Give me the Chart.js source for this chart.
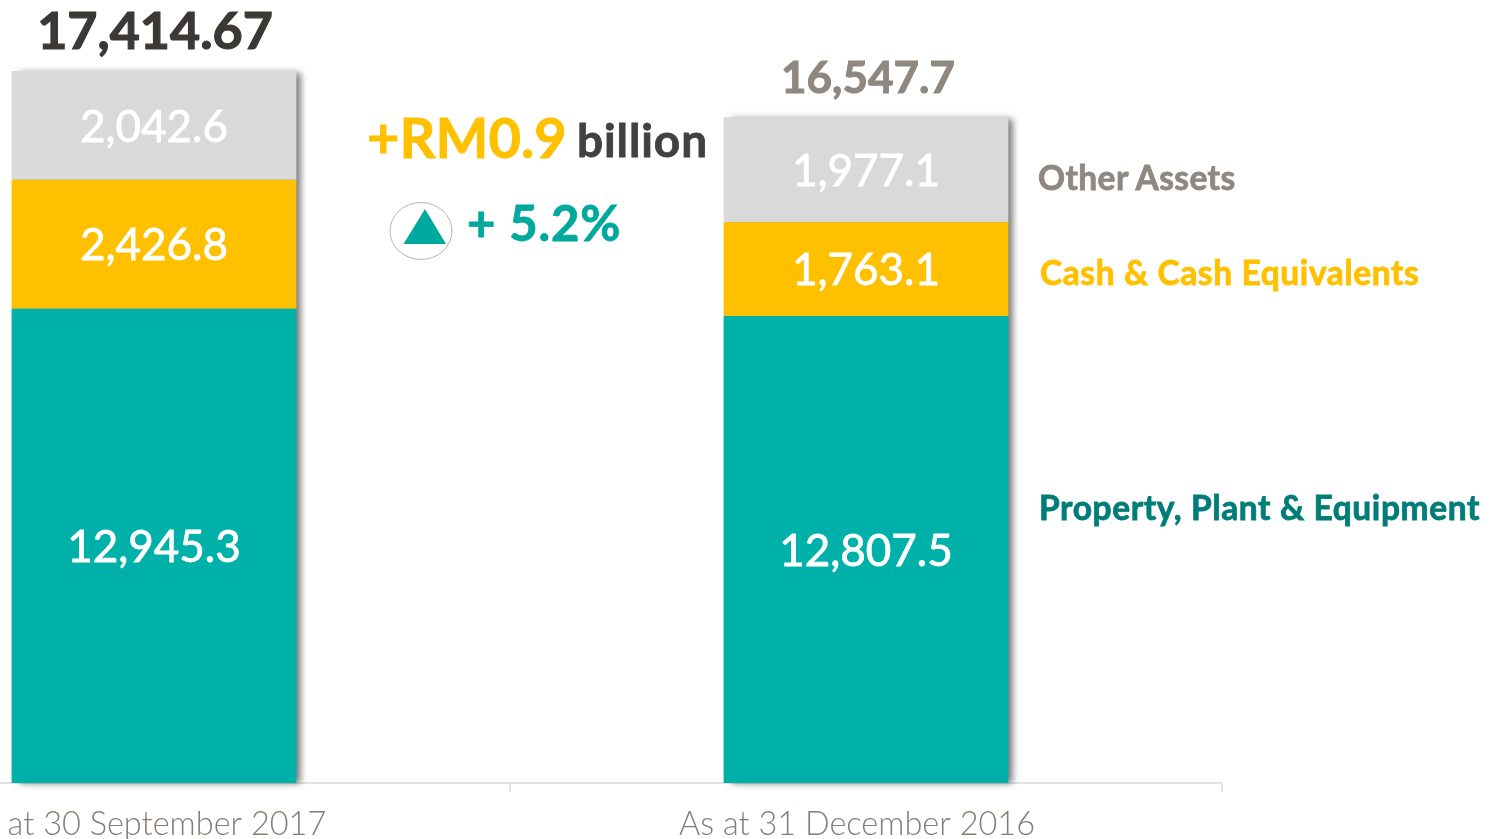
<!DOCTYPE html>
<html lang="en">
<head>
    <meta charset="UTF-8">
    <title>Total Assets</title>
    <style>
        html, body {
            margin: 0;
            width: 1501px;
            height: 839px;
            overflow: hidden;
            background: #fff;
            font-family: Lato, sans-serif;
        }
        #wrap {
            position: absolute;
            left: -202px;
            top: 0;
            width: 1440px;
            height: 839px;
        }
        .note {
            position: absolute;
            white-space: nowrap;
            line-height: 1;
            font-weight: 700;
            -webkit-text-stroke: 0.8px currentColor;
        }
        #legendOther { left: 1038px; top: 161px; font-size: 33.5px; letter-spacing: 0.4px; color: #8f8880; }
        #legendCash { left: 1040px; top: 256px; font-size: 33.5px; letter-spacing: 0.6px; color: #ffc000; }
        #legendPpe { left: 1039px; top: 491px; font-size: 33.5px; letter-spacing: 0.6px; color: #007d78; }
        #change { left: 367px; top: 109px; font-size: 56px; color: #ffc000; }
        #billion { left: 577px; top: 117px; font-size: 46px; letter-spacing: 0.9px; color: #414042; }
        #percent { left: 467px; top: 198px; font-size: 49px; letter-spacing: 0.9px; color: #00a99d; }
        #arrow { position: absolute; left: 388px; top: 200px; }
    </style>
    <script src="https://cdn.jsdelivr.net/npm/chart.js"></script>
</head>
<body>
    <div id="wrap"><canvas id="assetsChart"></canvas></div>
    <div class="note" id="legendOther"></div>
    <div class="note" id="legendCash"></div>
    <div class="note" id="legendPpe"></div>
    <div class="note" id="change">+RM0.9</div>
    <div class="note" id="billion">billion</div>
    <svg id="arrow" width="66" height="62">
        <ellipse cx="33" cy="31" rx="31" ry="28.5" fill="none" stroke="#b5b5b5" stroke-width="1"></ellipse>
        <polygon points="37,9 15.5,44 58,44" fill="#00a99d"></polygon>
    </svg>
    <div class="note" id="percent">+ 5.2%</div>
    <script>
        const categories = ['As at 30 September 2017', 'As at 31 December 2016'];
        const seriesNames = ['Property, Plant & Equipment', 'Cash & Cash Equivalents', 'Other Assets'];
        const ppeValues = [12945.3, 12807.5];
        const cashValues = [2426.8, 1763.1];
        const otherValues = [2042.6, 1977.1];
        const totalLabels = ['17,414.67', '16,547.7'];

        document.getElementById('legendPpe').textContent = seriesNames[0];
        document.getElementById('legendCash').textContent = seriesNames[1];
        document.getElementById('legendOther').textContent = seriesNames[2];

        function heavyText(ctx, text, x, y, color, weight) {
            ctx.fillStyle = color;
            ctx.strokeStyle = color;
            ctx.lineWidth = weight;
            ctx.fillText(text, x, y);
            ctx.strokeText(text, x, y);
        }

        // value labels inside the bars and totals on top of them
        const barLabels = {
            id: 'barLabels',
            afterDatasetsDraw(chart) {
                const ctx = chart.ctx;
                ctx.save();
                ctx.textAlign = 'center';
                ctx.textBaseline = 'middle';
                ctx.font = '44px Lato, sans-serif';
                chart.data.datasets.forEach((ds, i) => {
                    chart.getDatasetMeta(i).data.forEach((bar, j) => {
                        const bottom = i === 0 ? chart.scales.y.bottom : bar.base;
                        const label = ds.data[j].toLocaleString('en-US', { minimumFractionDigits: 1 });
                        heavyText(ctx, label, bar.x, (bar.y + bottom) / 2 + 2, '#fff', 0.8);
                    });
                });
                const top = chart.getDatasetMeta(2).data;
                ctx.font = '700 52px Lato, sans-serif';
                heavyText(ctx, totalLabels[0], top[0].x + 1, top[0].y - 39, '#3b3835', 1.2);
                ctx.font = '700 44px Lato, sans-serif';
                heavyText(ctx, totalLabels[1], top[1].x + 2, top[1].y - 38, '#8f8880', 1);
                ctx.restore();
            }
        };

        // one soft shadow behind each whole stack, so it does not fall across the segments
        const stackShadow = {
            id: 'stackShadow',
            beforeDatasetsDraw(chart) {
                const ctx = chart.ctx;
                const bottom = chart.scales.y.bottom;
                ctx.save();
                ctx.shadowColor = 'rgba(0, 0, 0, 0.55)';
                ctx.shadowBlur = 7;
                ctx.shadowOffsetX = 6;
                ctx.fillStyle = '#999';
                chart.getDatasetMeta(2).data.forEach((bar) => {
                    ctx.fillRect(bar.x - bar.width / 2 + 1, bar.y + 2, bar.width - 2, bottom - bar.y - 2);
                });
                ctx.restore();
            }
        };

        const noClip = { left: false, right: false, top: false, bottom: 0 };

        new Chart(document.getElementById('assetsChart'), {
            type: 'bar',
            data: {
                labels: categories,
                datasets: [
                    { label: seriesNames[0], data: ppeValues, backgroundColor: '#00b1a9', clip: noClip },
                    { label: seriesNames[1], data: cashValues, backgroundColor: '#ffc000', clip: noClip },
                    { label: seriesNames[2], data: otherValues, backgroundColor: '#d9d9d9', clip: noClip }
                ]
            },
            options: {
                responsive: true,
                maintainAspectRatio: false,
                animation: false,
                barPercentage: 1,
                categoryPercentage: 0.4,
                layout: { padding: { right: 16 } },
                plugins: {
                    legend: { display: false },
                    tooltip: { enabled: false }
                },
                scales: {
                    x: {
                        stacked: true,
                        afterFit(scale) { scale.height = 56; },
                        grid: { drawOnChartArea: false, color: '#e2e2e2', lineWidth: 2, tickLength: 9 },
                        border: { color: '#e2e2e2', width: 2 },
                        ticks: {
                            color: '#857d75',
                            font: { family: 'Lato', size: 32.5, weight: '300' },
                            padding: 13,
                            labelOffset: -9,
                            maxRotation: 0,
                            autoSkip: false
                        }
                    },
                    y: {
                        stacked: true,
                        display: false,
                        min: 4030,
                        max: 18750
                    }
                }
            },
            plugins: [stackShadow, barLabels]
        });
    </script>
</body>
</html>
